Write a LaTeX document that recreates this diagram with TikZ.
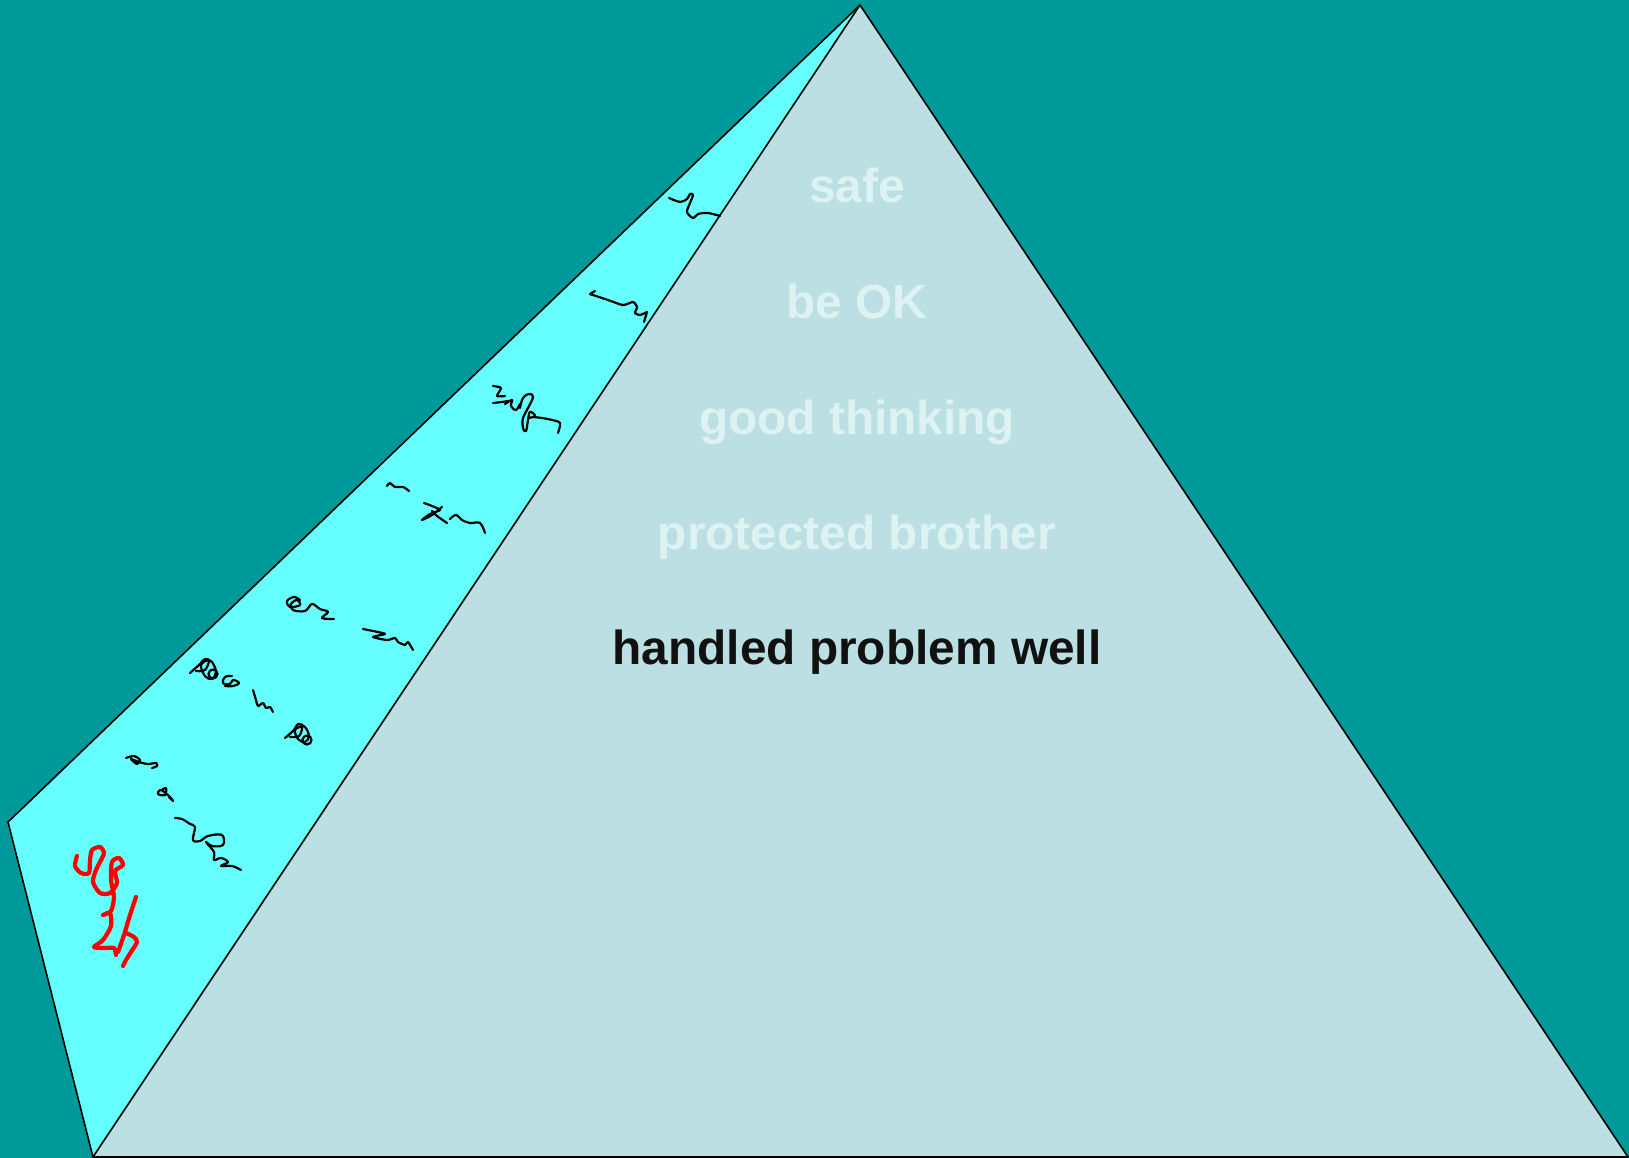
\documentclass[tikz,border=0pt]{standalone}
\usepackage{fontspec}
\setmainfont{Liberation Sans}
\definecolor{bgteal}{HTML}{009999}
\definecolor{sideface}{HTML}{66FFFF}
\definecolor{frontface}{HTML}{BBDFE3}
\definecolor{paletext}{HTML}{DDF2F3}
\definecolor{darktext}{HTML}{111111}
\tikzset{
  edge/.style={draw=black, line width=1.6pt, line join=miter},
  ink/.style={draw=black, line width=2.2pt, line cap=round, line join=round},
  redink/.style={draw=red, line width=4.2pt, line cap=round, line join=round},
  level/.style={font=\fontsize{47.8}{50}\selectfont\bfseries, anchor=base},
}
\begin{document}
\begin{tikzpicture}[x=1pt,y=-1pt]
\useasboundingbox (0,0) rectangle (1629,1158);
\fill[bgteal] (0,0) rectangle (1629,1158);
% corners
\coordinate (apex) at (860,5);
\coordinate (back) at (8,822);
\coordinate (bl) at (93,1157);
\coordinate (br) at (1628,1157);
% faces
\fill[sideface] (apex) -- (back) -- (bl) -- cycle;
\fill[frontface] (apex) -- (bl) -- (br) -- cycle;
\draw[edge] (apex) -- (back) -- (bl) -- (br) -- cycle;
\draw[edge] (apex) -- (bl);
% labels
\node[level, text=paletext] (l1) at (857,203) {safe};
\node[level, text=paletext] (l2) at (857,318) {be OK};
\node[level, text=paletext] (l3) at (857,434) {good thinking};
\node[level, text=paletext] (l4) at (857,549) {protected brother};
\node[level, text=darktext] (l5) at (857,664) {handled problem well};
% handwritten scribbles on the side face
\draw[ink] plot[smooth, tension=0.5] coordinates {(669,198) (680,202) (687,199) (690,194) (693,195) (690,203) (687,212) (693,218) (698,214) (708,213) (720,216)};
\draw[ink] plot[smooth, tension=0.4] coordinates {(595,291) (590,294) (593,295) (608,300) (623,305) (633,302) (637,307) (635,313) (640,315) (647,312)};
\draw[ink] (647,312) -- (644,322);
% "Zefa"
\draw[ink] plot[smooth, tension=0.4] coordinates {(493,386) (501,388) (497,396) (505,396)};
\draw[ink] plot[smooth, tension=0.4] coordinates {(493,403) (502,402) (508,401)};
\draw[ink] plot[smooth, tension=0.6] coordinates {(505,404) (512,400) (511,406) (516,410) (520,404)};
\draw[ink] plot[smooth, tension=0.7] coordinates {(520,408) (523,398) (529,394) (533,397) (528,408) (523,418) (523,428) (526,431) (528,420) (530,412) (535,416) (528,418)};
\draw[ink] plot[smooth, tension=0.5] coordinates {(533,417) (542,418) (552,420) (560,423) (558,433)};
% "~ Xn~"
\draw[ink] plot[smooth, tension=0.6] coordinates {(387,486) (390,483) (395,487) (403,487) (409,491)};
\draw[ink] plot[smooth, tension=0.4] coordinates {(424,503) (432,506) (440,510) (430,514) (422,520) (432,515) (442,507)};
\draw[ink] plot[smooth, tension=0.4] coordinates {(432,511) (437,516) (447,523)};
\draw[ink] plot[smooth, tension=0.6] coordinates {(450,519) (456,515) (462,520) (470,523) (480,523) (485,533)};
% "e~  ~~"
\draw[ink] plot[smooth, tension=0.6] coordinates {(300,600) (294,597) (287,601) (290,607) (300,605) (297,600) (291,604) (293,610) (305,611) (312,604) (320,609) (328,612) (322,618) (334,619)};
\draw[ink] plot[smooth, tension=0.4] coordinates {(363,629) (378,632) (385,634) (373,637) (387,640) (395,638) (398,642) (405,645) (408,642) (413,650)};
% "A s les A"
\draw[ink] plot[smooth, tension=0.6] coordinates {(190,673) (200,664) (205,659) (212,662) (216,672) (212,679) (205,676) (201,665) (209,660) (205,670) (196,671)};
\draw[ink] (213,674) circle[radius=4.5];
\draw[ink] plot[smooth, tension=0.7] coordinates {(232,676) (225,677) (223,683) (230,684) (233,680) (239,683) (233,686) (225,686)};
\draw[ink] plot[smooth, tension=0.5] coordinates {(253,690) (256,700) (258,706) (263,703) (266,708) (270,707) (273,712)};
\draw[ink] plot[smooth, tension=0.6] coordinates {(285,738) (294,730) (298,724) (305,727) (309,736) (305,742) (298,739) (295,730) (302,727) (299,736) (290,737)};
\draw[ink] (307,740) circle[radius=4.5];
% "n e ~rafa"
\draw[ink] plot[smooth, tension=0.5] coordinates {(126,758) (134,756) (140,760) (137,764) (131,759) (139,762) (148,764) (156,763) (157,766) (152,768)};
\draw[ink] plot[smooth, tension=0.6] coordinates {(162,790) (166,788) (165,795) (158,794) (161,790) (170,797) (173,801) (169,797)};
\draw[ink] plot[smooth, tension=0.6] coordinates {(175,818) (182,819) (190,824) (195,827) (193,840) (200,841) (208,836) (222,835) (223,845) (212,846) (206,842) (214,852) (214,860) (221,858) (228,862) (221,866) (232,866) (241,870)};
% red scribble
\draw[redink] plot[smooth, tension=0.45] coordinates {(77,856) (75,866) (81,873) (89,873) (90,860) (92,850) (100,847) (104,853) (100,862) (96,870) (93,882) (100,893) (110,893) (117,883) (115,871) (123,865) (119,858) (112,862) (111,880) (114,897) (111,911) (103,915) (110,913) (111,926) (103,940) (94,947) (104,948) (114,948) (116,955)};
\draw[redink] plot[smooth, tension=0.45] coordinates {(136,897) (130,915) (124,935) (118,952)};
\draw[redink] plot[smooth, tension=0.45] coordinates {(126,933) (134,937) (137,942) (131,952) (126,960) (123,966)};
\end{tikzpicture}
\end{document}
